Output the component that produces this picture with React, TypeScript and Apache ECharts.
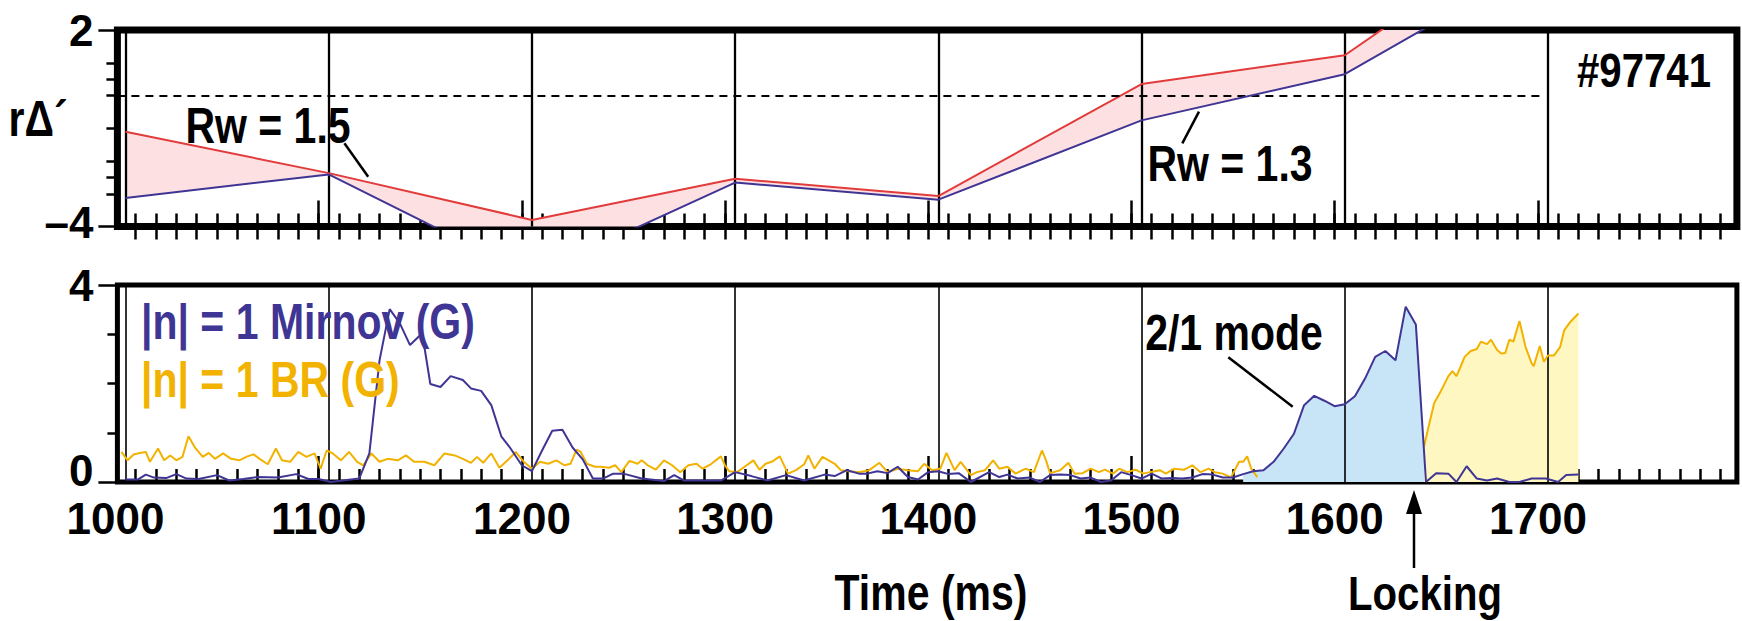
import React, { useEffect, useRef } from "react";
import * as echarts from "echarts";

const FONT = "'Liberation Sans', Arial, sans-serif";
const SQUEEZE = 0.82;

// ---- top panel: r-delta-prime for two wall radii ----
const RW_TIMES = [1000, 1100, 1200, 1300, 1400, 1500, 1600, 1700];
const RW15 = [-1.11, -2.37, -3.8, -2.54, -3.07, 0.35, 1.23, 5.5];
const RW13 = [-3.13, -2.41, -5.5, -2.66, -3.18, -0.76, 0.65, 4.2];

// ---- bottom panel: |n|=1 Mirnov and BR amplitude (G) ----
const MIRNOV: [number, number][] = [
  [1000, 0.05], [1006, 0.05], [1010, 0.15], [1014, 0.09], [1020, 0.08], [1025, 0.16], [1030, 0.07],
  [1036, 0.06], [1045, 0.14], [1051, 0.03], [1058, 0.06], [1065, 0.1], [1075, 0.09], [1084, 0.16],
  [1090, 0.06], [1095, 0.06], [1101, 0], [1107, 0.03], [1115, 0.07], [1120, 0.58], [1125, 2.47],
  [1130, 3.51], [1135, 3.22], [1140, 2.78], [1146, 3.02], [1150, 1.99], [1155, 1.93], [1160, 2.15],
  [1166, 2.07], [1170, 1.9], [1175, 1.85], [1180, 1.56], [1185, 0.92], [1189, 0.71], [1195, 0.34],
  [1200, 0.22], [1205, 0.64], [1210, 1.04], [1215, 1.06], [1220, 0.7], [1225, 0.46], [1230, 0.07],
  [1235, 0.07], [1240, 0.17], [1245, 0.17], [1254, 0.07], [1265, 0.02], [1270, 0.14], [1275, 0.03],
  [1293, 0.03], [1300, 0.2], [1308, 0.12], [1316, 0.03], [1325, 0.14], [1334, 0.03], [1344, 0.15],
  [1349, 0.12], [1355, 0.24], [1361, 0.17], [1365, 0.17], [1370, 0.22], [1375, 0.18], [1380, 0.31],
  [1385, 0.1], [1390, 0.05], [1395, 0.2], [1400, 0.22], [1405, 0.16], [1410, 0.18], [1416, 0],
  [1425, 0.2], [1430, 0.1], [1434, 0.15], [1439, 0.07], [1445, 0.09], [1450, 0], [1455, 0.14],
  [1460, 0.15], [1465, 0.14], [1470, 0.07], [1475, 0.09], [1480, 0], [1485, 0.03], [1490, 0.2],
  [1495, 0.14], [1500, 0.07], [1505, 0.17], [1510, 0.07], [1515, 0.08], [1520, 0.07], [1525, 0.09],
  [1530, 0.16], [1535, 0.15], [1540, 0.09], [1545, 0.09], [1550, 0.16], [1555, 0.22], [1560, 0.24],
  [1565, 0.41], [1570, 0.68], [1575, 0.98], [1580, 1.56], [1585, 1.75], [1590, 1.65], [1595, 1.54],
  [1600, 1.58], [1605, 1.74], [1610, 2.1], [1615, 2.54], [1620, 2.66], [1625, 2.47], [1630, 3.56],
  [1635, 3.2], [1640, 0], [1645, 0.18], [1651, 0.17], [1655, 0], [1660, 0.32], [1665, 0.07],
  [1670, 0.03], [1675, 0.07], [1681, 0], [1686, 0], [1692, 0.07], [1699, 0.07], [1705, 0],
  [1709, 0.14], [1715, 0.15],
];

const BR: [number, number | null][] = [
  [998, 0.61], [1001, 0.44], [1004, 0.56], [1007, 0.59], [1010, 0.61], [1012, 0.41], [1016, 0.68],
  [1019, 0.44], [1022, 0.54], [1025, 0.44], [1028, 0.51], [1031, 0.93], [1034, 0.71], [1038, 0.51],
  [1041, 0.59], [1044, 0.47], [1048, 0.58], [1052, 0.47], [1056, 0.44], [1060, 0.52], [1063, 0.56],
  [1066, 0.47], [1070, 0.36], [1074, 0.68], [1077, 0.44], [1081, 0.41], [1085, 0.61], [1089, 0.51],
  [1093, 0.58], [1096, 0.27], [1099, 0.64], [1102, 0.58], [1106, 0.44], [1110, 0.61], [1114, 0.41],
  [1117, 0.34], [1121, 0.58], [1125, 0.41], [1129, 0.47], [1134, 0.44], [1138, 0.54], [1142, 0.41],
  [1147, 0.41], [1152, 0.34], [1157, 0.58], [1162, 0.54], [1166, 0.47], [1170, 0.39], [1173, 0.51],
  [1176, 0.39], [1180, 0.58], [1184, 0.29], [1188, 0.44], [1192, 0.61], [1196, 0.41], [1200, 0.27],
  [1204, 0.41], [1208, 0.37], [1212, 0.44], [1216, 0.34], [1219, 0.37], [1222, 0.66], [1224, 0.61],
  [1227, 0.37], [1231, 0.31], [1234, 0.31], [1238, 0.29], [1241, 0.34], [1244, 0.2], [1248, 0.43],
  [1252, 0.37], [1254, 0.44], [1257, 0.34], [1261, 0.25], [1265, 0.44], [1269, 0.34], [1273, 0.2],
  [1277, 0.34], [1281, 0.37], [1284, 0.27], [1288, 0.36], [1293, 0.52], [1295, 0.34], [1297, 0.22],
  [1301, 0.2], [1305, 0.32], [1309, 0.44], [1312, 0.25], [1315, 0.37], [1318, 0.41], [1322, 0.52],
  [1326, 0.17], [1330, 0.24], [1334, 0.36], [1336, 0.54], [1339, 0.27], [1343, 0.51], [1346, 0.44],
  [1349, 0.37], [1352, 0.24], [1356, 0.22], [1361, 0.2], [1366, 0.24], [1371, 0.39], [1375, 0.2],
  [1380, 0.27], [1385, 0.24], [1390, 0.22], [1393, 0.37], [1397, 0.24], [1401, 0.27], [1404, 0.59],
  [1408, 0.24], [1411, 0.41], [1416, 0.14], [1419, 0.2], [1423, 0.24], [1427, 0.44], [1430, 0.27],
  [1434, 0.31], [1438, 0.17], [1443, 0.27], [1447, 0.2], [1451, 0.64], [1453, 0.44], [1455, 0.18],
  [1460, 0.24], [1464, 0.39], [1467, 0.17], [1471, 0.18], [1475, 0.27], [1479, 0.2], [1482, 0.25],
  [1486, 0.17], [1489, 0.27], [1493, 0.2], [1497, 0.25], [1501, 0.17], [1504, 0.2], [1509, 0.24],
  [1512, 0.17], [1516, 0.27], [1521, 0.25], [1525, 0.34], [1529, 0.2], [1533, 0.27], [1536, 0.2],
  [1540, 0.17], [1544, 0.09], [1548, 0.41], [1550, 0.41], [1552, 0.52], [1554, 0.27], [1557, 0.1],
  [1600, null],
  [1639, 0.72], [1642, 1.25], [1644, 1.6], [1647, 1.82], [1651, 2.15], [1653, 2.25], [1655, 2.15],
  [1657, 2.34], [1659, 2.54], [1662, 2.66], [1665, 2.7], [1667, 2.85], [1670, 2.8], [1672, 2.89],
  [1675, 2.68], [1677, 2.61], [1679, 2.62], [1681, 2.89], [1683, 2.85], [1686, 3.27], [1689, 2.74],
  [1692, 2.41], [1693, 2.35], [1696, 2.76], [1698, 2.44], [1700, 2.57], [1703, 2.57], [1706, 2.74],
  [1708, 3.08], [1711, 3.25], [1715, 3.42],
];

// ---- axes ----
const X_MIN = 996;
const X_MAX = 1793;
const X_LABELS = [1000, 1100, 1200, 1300, 1400, 1500, 1600, 1700];
const X_MINOR_TICKS = Array.from({ length: 79 }, (_, i) => 1005 + 10 * i);
const X_TALL_TICKS = [1095, 1195, 1295, 1395, 1495, 1595, 1695];
const TOP_Y_MAX_LABEL = [2];
const TOP_Y_MIN_LABEL = [-4];
const TOP_Y_LONG_TICKS = [-4, 2];
const TOP_Y_MINOR = [1, 0.5, 0, -1, -2, -2.5, -3];
const BOT_Y_MAX_LABEL = [4];
const BOT_Y_MIN_LABEL = [0];
const BOT_Y_LONG_TICKS = [0, 4];
const BOT_Y_MINOR = [1, 2, 3];

const RED = "#e23b3b";
const PINK = "#fde0e1";
const BLUE = "#3f3594";
const GOLD = "#f2b200";
const LIGHT_BLUE = "#c8e4f7";
const LIGHT_YELLOW = "#fff7c2";

export default function App() {
  const ref = useRef<HTMLDivElement>(null);

  useEffect(() => {
    const el = ref.current!;
    const chart = echarts.init(el, undefined, { renderer: "svg", width: 1742, height: 621 });

    const F = { fontFamily: FONT, fontWeight: "bold" as const, color: "#000" };

    const xAx = (grid: number, extra: any) => ({
      type: "value",
      gridIndex: grid,
      min: X_MIN,
      max: X_MAX,
      position: "bottom",
      axisLine: { show: false, onZero: false },
      axisLabel: { show: false },
      axisTick: { show: false },
      splitLine: { show: false },
      ...extra,
    });
    const tick = (values: number[], len: number, inside: boolean) => ({
      show: true,
      inside,
      length: len,
      customValues: values,
      lineStyle: { color: "#000", width: 2.5 },
    });

    const yAx = (grid: number, min: number, max: number, extra: any) => ({
      type: "value",
      gridIndex: grid,
      min,
      max,
      position: "left",
      axisLine: { show: false, onZero: false },
      axisLabel: { show: false },
      axisTick: { show: false },
      splitLine: { show: false },
      ...extra,
    });
    const yLabel = (values: number[], extra: any = {}) => ({
      show: true,
      customValues: values,
      ...F,
      fontSize: 44,
      margin: 24,
      formatter: (v: number) => (v < 0 ? `–${Math.abs(v)}` : String(v)),
      ...extra,
    });

    const T = (text: string, x: number, y: number, size: number, fill: string, align = "center") => ({
      type: "text",
      z: 10,
      x,
      y,
      scaleX: SQUEEZE,
      style: {
        text,
        x: 0,
        y: 0,
        fill,
        fontSize: size,
        fontWeight: "bold",
        fontFamily: FONT,
        align,
        textAlign: align,
        verticalAlign: "middle",
        textVerticalAlign: "middle",
      },
    });
    const L = (x1: number, y1: number, x2: number, y2: number) => ({
      type: "line",
      z: 10,
      shape: { x1, y1, x2, y2 },
      style: { stroke: "#000", lineWidth: 2.5 },
    });

    const option: any = {
      animation: false,
      backgroundColor: "#fff",
      grid: [
        { left: 117.4, top: 30, width: 1619.5, height: 196.5, show: true, borderColor: "#000", borderWidth: 7, backgroundColor: "transparent", containLabel: false, outerBoundsMode: "none" },
        { left: 117.4, top: 285, width: 1619.5, height: 197, show: true, borderColor: "#000", borderWidth: 5, backgroundColor: "transparent", containLabel: false, outerBoundsMode: "none" },
      ],
      xAxis: [
        xAx(0, { z: 3, axisTick: { show: false, customValues: X_LABELS }, splitLine: { show: true, lineStyle: { color: "#000", width: 2.3 } } }),
        xAx(0, { axisTick: tick(X_MINOR_TICKS, 13, true) }),
        xAx(0, { axisTick: tick(X_MINOR_TICKS, 13, false) }),
        xAx(0, { axisTick: tick(X_TALL_TICKS, 26, true) }),
        xAx(1, {
          z: 3,
          axisTick: { show: false, customValues: X_LABELS },
          splitLine: { show: true, lineStyle: { color: "#000", width: 1.6 } },
          axisLabel: {
            show: true,
            customValues: X_LABELS,
            ...F,
            fontSize: 44,
            lineHeight: 34,
            margin: 19,
            padding: [0, 20, 0, 0],
            formatter: (v: number) => String(v),
          },
        }),
        xAx(1, { axisTick: tick(X_MINOR_TICKS, 13, true) }),
        xAx(1, { axisTick: tick(X_TALL_TICKS, 26, true) }),
      ],
      yAxis: [
        yAx(0, -4, 2, { axisTick: tick(TOP_Y_LONG_TICKS, 19, false), axisLabel: yLabel(TOP_Y_MAX_LABEL) }),
        yAx(0, -4, 2, {
          axisTick: tick(TOP_Y_MINOR, 11, false),
          axisLabel: yLabel(TOP_Y_MIN_LABEL, { verticalAlign: "bottom", lineHeight: 8 }),
        }),
        yAx(1, 0, 4, { axisTick: tick(BOT_Y_LONG_TICKS, 19, false), axisLabel: yLabel(BOT_Y_MAX_LABEL) }),
        yAx(1, 0, 4, {
          axisTick: tick(BOT_Y_MINOR, 10, false),
          axisLabel: yLabel(BOT_Y_MIN_LABEL, { verticalAlign: "bottom", lineHeight: 24 }),
        }),
      ],
      series: [
        {
          name: "band",
          type: "custom",
          coordinateSystem: "cartesian2d",
          xAxisIndex: 0,
          yAxisIndex: 0,
          clip: true,
          z: 2,
          silent: true,
          data: [[RW_TIMES[0], RW15[0]]],
          encode: { x: 0, y: 1 },
          renderItem: (_params: any, api: any) => {
            const upper = RW_TIMES.map((t, i) => api.coord([t, RW15[i]]));
            const lower = RW_TIMES.map((t, i) => api.coord([t, RW13[i]])).reverse();
            return {
              type: "polygon",
              shape: { points: upper.concat(lower) },
              style: { fill: PINK },
            };
          },
        },
        {
          name: "Rw = 1.5",
          type: "line",
          xAxisIndex: 0,
          yAxisIndex: 0,
          symbol: "none",
          z: 4,
          lineStyle: { color: RED, width: 2 },
          data: RW_TIMES.map((t, i) => [t, RW15[i]]),
        },
        {
          name: "Rw = 1.3",
          type: "line",
          xAxisIndex: 0,
          yAxisIndex: 0,
          symbol: "none",
          z: 5,
          lineStyle: { color: BLUE, width: 2 },
          data: RW_TIMES.map((t, i) => [t, RW13[i]]),
          markLine: {
            silent: true,
            symbol: "none",
            label: { show: false },
            lineStyle: { color: "#000", width: 2, type: [8, 6] },
            data: [[{ coord: [X_MIN, 0] }, { coord: [1697, 0] }]],
          },
        },
        {
          name: "mode fill",
          type: "line",
          xAxisIndex: 4,
          yAxisIndex: 2,
          symbol: "none",
          z: 1,
          lineStyle: { opacity: 0 },
          areaStyle: { color: LIGHT_BLUE, opacity: 1 },
          data: MIRNOV.filter(([t]) => t >= 1550 && t <= 1640),
        },
        {
          name: "BR fill",
          type: "line",
          xAxisIndex: 4,
          yAxisIndex: 2,
          symbol: "none",
          z: 1,
          lineStyle: { opacity: 0 },
          areaStyle: { color: LIGHT_YELLOW, opacity: 1 },
          data: BR.filter(([t, v]) => t >= 1639 && v !== null),
        },
        {
          name: "|n| = 1 BR (G)",
          type: "line",
          xAxisIndex: 4,
          yAxisIndex: 2,
          symbol: "none",
          z: 4,
          connectNulls: false,
          lineStyle: { color: GOLD, width: 2 },
          data: BR,
        },
        {
          name: "|n| = 1 Mirnov (G)",
          type: "line",
          xAxisIndex: 4,
          yAxisIndex: 2,
          symbol: "none",
          z: 5,
          lineStyle: { color: BLUE, width: 2 },
          data: MIRNOV,
        },
      ],
      graphic: [
        T("rΔ´", 38, 119, 50, "#000"),
        T("Rw = 1.5", 268, 126, 50, "#000"),
        L(344.4, 143.3, 368.2, 176.7),
        T("Rw = 1.3", 1230, 164, 50, "#000"),
        L(1182.3, 143.3, 1199, 111.7),
        T("#97741", 1644, 70, 49, "#000"),
        T("|n| = 1 Mirnov (G)", 141, 322, 50, BLUE, "left"),
        T("|n| = 1 BR (G)", 141, 380, 50, GOLD, "left"),
        T("2/1 mode", 1234, 333, 50, "#000"),
        L(1228.3, 357.3, 1292.7, 406.7),
        T("Time (ms)", 931, 593, 50, "#000"),
        T("Locking", 1425, 593, 49, "#000"),
        { type: "line", z: 10, shape: { x1: 1414, y1: 568, x2: 1414, y2: 505 }, style: { stroke: "#000", lineWidth: 2.5 } },
        { type: "polygon", z: 10, shape: { points: [[1414, 490], [1406, 514], [1422, 514]] }, style: { fill: "#000" } },
      ],
    };

    chart.setOption(option);
    return () => chart.dispose();
  }, []);

  return (
    <div
      ref={ref}
      style={{ position: "fixed", left: 0, top: 0, width: 1742, height: 621, background: "#fff" }}
    />
  );
}
